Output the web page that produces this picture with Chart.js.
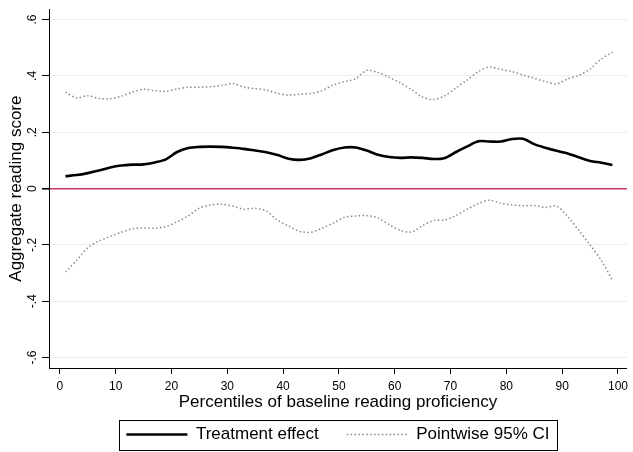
<!DOCTYPE html>
<html>
<head>
<meta charset="utf-8">
<script src="https://cdn.jsdelivr.net/npm/chart.js@4"></script>
<style>
  html, body { margin: 0; padding: 0; background: #fff; }
  #wrap { width: 633px; height: 452px; }
</style>
</head>
<body>
<div id="wrap"><canvas id="qteChart" width="633" height="452"></canvas></div>
<script>
// Percentile grid and values
const percentiles = [1, 3, 5, 7, 9, 11, 13, 15, 17, 19, 21, 23, 25, 27, 29, 31, 33, 35, 37, 39,
  41, 43, 45, 47, 49, 51, 53, 55, 57, 59, 61, 63, 65, 67, 69, 71, 73, 75, 77, 79,
  81, 83, 85, 87, 89, 91, 93, 95, 97, 99];

const effect = [0.044, 0.048, 0.055, 0.064, 0.075, 0.082, 0.085, 0.086, 0.093, 0.104,
  0.130, 0.144, 0.148, 0.149, 0.148, 0.145, 0.141, 0.135, 0.129, 0.119,
  0.106, 0.102, 0.108, 0.122, 0.137, 0.146, 0.146, 0.135, 0.120, 0.112,
  0.109, 0.111, 0.109, 0.105, 0.109, 0.130, 0.150, 0.168, 0.167, 0.167,
  0.176, 0.177, 0.158, 0.145, 0.134, 0.125, 0.111, 0.098, 0.092, 0.084];

const ciUpper = [0.342, 0.322, 0.330, 0.320, 0.319, 0.328, 0.343, 0.353, 0.348, 0.345,
  0.354, 0.360, 0.360, 0.362, 0.366, 0.373, 0.360, 0.355, 0.350, 0.338,
  0.332, 0.335, 0.338, 0.348, 0.368, 0.380, 0.390, 0.420, 0.412, 0.395,
  0.375, 0.352, 0.325, 0.316, 0.330, 0.358, 0.386, 0.416, 0.432, 0.423,
  0.416, 0.403, 0.392, 0.380, 0.372, 0.390, 0.402, 0.425, 0.460, 0.485];

const ciLower = [-0.296, -0.255, -0.210, -0.186, -0.170, -0.155, -0.143, -0.140, -0.141, -0.135,
  -0.118, -0.097, -0.069, -0.058, -0.056, -0.062, -0.073, -0.070, -0.080, -0.112,
  -0.133, -0.152, -0.155, -0.140, -0.122, -0.102, -0.097, -0.096, -0.104, -0.128,
  -0.148, -0.154, -0.131, -0.113, -0.111, -0.095, -0.073, -0.053, -0.041, -0.052,
  -0.058, -0.061, -0.060, -0.067, -0.062, -0.100, -0.149, -0.200, -0.255, -0.325];

const xTicks = [0, 10, 20, 30, 40, 50, 60, 70, 80, 90, 100];
const yTicks = [-0.6, -0.4, -0.2, 0, 0.2, 0.4, 0.6];
const yTickLabels = ['-.6', '-.4', '-.2', '0', '.2', '.4', '.6'];

const FONT = "'Liberation Sans', Arial, sans-serif";
const CI_DASH = [1.5, 2.4];
const toPoints = vals => vals.map((v, i) => ({ x: percentiles[i], y: v }));

// Stata style box around the legend
const legendFrame = {
  id: 'legendFrame',
  afterDraw(chart) {
    const boxes = chart.legend && chart.legend.legendHitBoxes;
    if (!boxes || !boxes.length) return;
    const left = Math.min(...boxes.map(b => b.left)) - 7;
    const right = Math.max(...boxes.map(b => b.left + b.width)) + 8;
    const mid = boxes[0].top + boxes[0].height / 2;
    const c = chart.ctx;
    c.save();
    c.strokeStyle = '#000';
    c.lineWidth = 1;
    c.strokeRect(Math.round(left) + 0.5, Math.round(mid - 15) + 0.5, Math.round(right - left), 30);
    c.restore();
  }
};

new Chart(document.getElementById('qteChart'), {
  type: 'line',
  data: {
    datasets: [{
      label: 'Treatment effect',
      data: toPoints(effect),
      borderColor: '#000',
      borderWidth: 2.6,
      pointRadius: 0,
      tension: 0.3,
      order: 1
    }, {
      label: 'Pointwise 95% CI',
      data: toPoints(ciUpper),
      borderColor: '#8a8a8a',
      borderWidth: 1.5,
      borderDash: CI_DASH,
      pointRadius: 0,
      tension: 0.3,
      order: 2
    }, {
      label: 'lower',
      data: toPoints(ciLower),
      borderColor: '#8a8a8a',
      borderWidth: 1.5,
      borderDash: CI_DASH,
      pointRadius: 0,
      tension: 0.3,
      order: 2
    }]
  },
  options: {
    responsive: false,
    animation: false,
    layout: { padding: { left: 0, right: 1, top: 7, bottom: -1 } },
    plugins: {
      tooltip: { enabled: false },
      legend: {
        position: 'bottom',
        fullSize: false,
        labels: {
          usePointStyle: true,
          pointStyle: 'line',
          pointStyleWidth: 61,
          padding: 28,
          color: '#000',
          font: { family: FONT, size: 17 },
          generateLabels: chart => Chart.defaults.plugins.legend.labels.generateLabels(chart)
            .filter(item => item.text !== 'lower')
            .map(item => Object.assign(item, {
              lineDash: chart.data.datasets[item.datasetIndex].borderDash || []
            }))
        }
      }
    },
    scales: {
      x: {
        type: 'linear',
        min: -1.95,
        max: 101.6,
        bounds: 'data',
        afterBuildTicks: s => { s.ticks = xTicks.map(v => ({ value: v })); },
        afterFit: s => { s.height = 30; },
        border: { color: '#000', width: 1 },
        grid: { drawOnChartArea: false, tickLength: 6, tickColor: '#000' },
        ticks: { color: '#000', padding: 5, maxRotation: 0, font: { family: FONT, size: 12 } },
        title: {
          display: true,
          text: 'Percentiles of baseline reading proficiency',
          color: '#000',
          padding: { top: 0, bottom: -15 },
          font: { family: FONT, size: 17 }
        }
      },
      y: {
        type: 'linear',
        min: -0.637,
        max: 0.637,
        bounds: 'data',
        afterBuildTicks: s => { s.ticks = yTicks.map(v => ({ value: v })); },
        afterFit: s => { s.width = 49; },
        border: { color: '#000', width: 1 },
        grid: {
          tickLength: 7,
          tickColor: '#000',
          color: c => (c.tick && c.tick.value === 0 ? '#c4385f' : '#e6eff1'),
          lineWidth: c => (c.tick && c.tick.value === 0 ? 1.6 : 1)
        },
        ticks: {
          color: '#000',
          padding: 2,
          minRotation: 90,
          maxRotation: 90,
          crossAlign: 'center',
          font: { family: FONT, size: 12 },
          callback: v => {
            const i = yTicks.findIndex(t => Math.abs(t - v) < 1e-9);
            return i >= 0 ? yTickLabels[i] : '';
          }
        },
        title: {
          display: true,
          text: 'Aggregate reading score',
          color: '#000',
          padding: { top: 6, bottom: 0 },
          font: { family: FONT, size: 17 }
        }
      }
    }
  },
  plugins: [legendFrame]
});
</script>
</body>
</html>
